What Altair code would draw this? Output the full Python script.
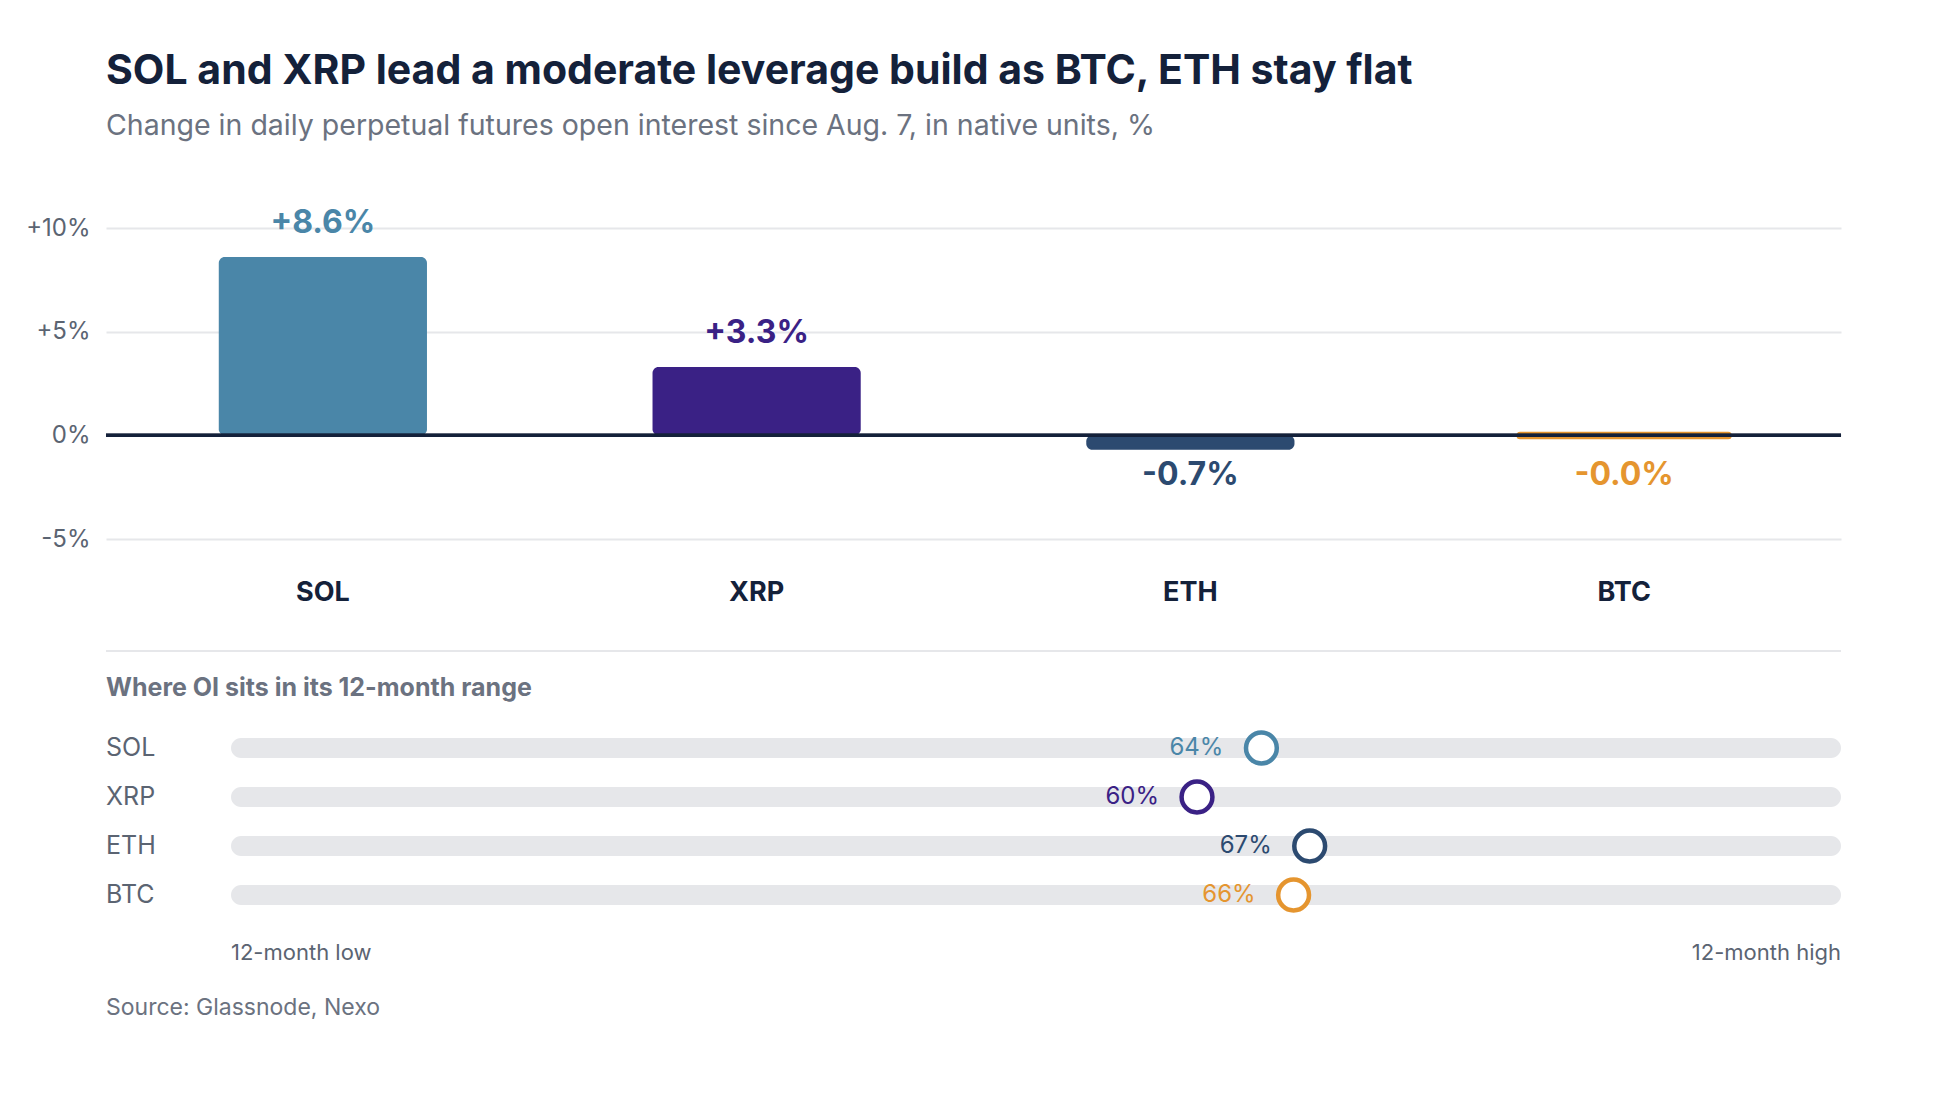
import altair as alt
import pandas as pd

coins = ["SOL", "XRP", "ETH", "BTC"]
change = [8.6, 3.3, -0.7, -0.02]
change_labels = ["+8.6%", "+3.3%", "-0.7%", "-0.0%"]
range_pct = [64, 60, 67, 66]
colors = ["#4a86a8", "#3a2185", "#2c4a70", "#e5952f"]

title = "SOL and XRP lead a moderate leverage build as BTC, ETH stay flat"
subtitle = "Change in daily perpetual futures open interest since Aug. 7, in native units, %"
sub2 = "Where OI sits in its 12-month range"
source = "Source: Glassnode, Nexo"
FONT = "Inter"
W = 1735

df = pd.DataFrame({"coin": coins, "change": change, "label": change_labels,
                   "pct": range_pct, "pct_label": [f"{p}%" for p in range_pct],
                   "zero": [0] * 4, "lo": [0] * 4, "hi": [100] * 4})
cscale = alt.Scale(domain=coins, range=colors)

xenc = alt.X("coin:N", sort=coins, title=None,
             scale=alt.Scale(paddingInner=0.52, paddingOuter=0.26),
             axis=alt.Axis(orient="bottom", domain=False, ticks=False, labelAngle=0,
                           labelFont=FONT, labelFontSize=27, labelFontWeight="bold",
                           labelColor="#14213a", labelPadding=40))
yscale = alt.Scale(domain=[-5, 10], nice=False)

base = alt.Chart(df)
bars = base.mark_bar(cornerRadius=6).encode(
    x=xenc,
    y=alt.Y("change:Q", scale=yscale, title=None,
            axis=alt.Axis(values=[-5, 0, 5, 10], domain=False, ticks=False,
                          labelExpr="datum.value > 0 ? '+' + datum.value + '%' : datum.value + '%'",
                          labelFont=FONT, labelFontSize=24, labelColor="#5b6472",
                          labelPadding=16, gridColor="#e6e7ea", gridWidth=2)),
    y2="zero:Q",
    color=alt.Color("coin:N", scale=cscale, legend=None),
)
flat = base.transform_filter("abs(datum.change) < 0.1").mark_bar(
    stroke="#e5952f", strokeWidth=7, strokeJoin="round").encode(
    x=alt.X("coin:N", sort=coins), y="change:Q", y2="zero:Q",
    color=alt.Color("coin:N", scale=cscale, legend=None))
zero = base.mark_rule(color="#14213a", strokeWidth=3).encode(
    y="zero:Q", x=alt.value(0), x2=alt.value(W))
pos = base.transform_filter("datum.change > 0").mark_text(
    font=FONT, fontSize=32, fontWeight="bold", baseline="bottom", dy=-17).encode(
    x=alt.X("coin:N", sort=coins), y="change:Q",
    text="label:N", color=alt.Color("coin:N", scale=cscale, legend=None))
neg = base.transform_filter("datum.change <= 0").transform_calculate(
    ly="min(datum.change, -0.7)").mark_text(
    font=FONT, fontSize=32, fontWeight="bold", baseline="top", dy=10).encode(
    x=alt.X("coin:N", sort=coins), y="ly:Q",
    text="label:N", color=alt.Color("coin:N", scale=cscale, legend=None))
t1 = alt.Chart(pd.DataFrame({"t": [title]})).mark_text(
    font=FONT, fontSize=41, fontWeight="bold", align="left", baseline="middle",
    color="#14213a").encode(text="t:N", x=alt.value(0), y=alt.value(-156))
t2 = alt.Chart(pd.DataFrame({"t": [subtitle]})).mark_text(
    font=FONT, fontSize=28.5, align="left", baseline="middle",
    color="#6b7280").encode(text="t:N", x=alt.value(0), y=alt.value(-102))

top = alt.layer(bars, flat, zero, pos, neg, t1, t2).properties(width=W, height=311)

# bottom panel
xs = alt.Scale(domain=[0, 100], range=[125, W])
ys = alt.Scale(type="point", domain=coins, range=[97, 244], padding=0)
bb = alt.Chart(df)
track = bb.mark_bar(color="#e6e7ea", height=20, cornerRadius=10).encode(
    x=alt.X("lo:Q", scale=xs, axis=None), x2="hi:Q",
    y=alt.Y("coin:N", scale=ys, axis=None, sort=coins))
rowlab = bb.mark_text(font=FONT, fontSize=25, align="left", baseline="middle",
                      color="#5b6472").encode(
    x=alt.value(0), y=alt.Y("coin:N", sort=coins), text="coin:N")
dots = bb.mark_point(shape="circle", size=950, filled=False, fill="white",
                     fillOpacity=1, strokeWidth=4.5, opacity=1).encode(
    x=alt.X("pct:Q"), y=alt.Y("coin:N", sort=coins),
    color=alt.Color("coin:N", scale=cscale, legend=None))
plab = bb.mark_text(font=FONT, fontSize=24, align="right", baseline="middle", dx=-38).encode(
    x=alt.X("pct:Q"), y=alt.Y("coin:N", sort=coins),
    text="pct_label:N", color=alt.Color("coin:N", scale=cscale, legend=None))
sep = alt.Chart(pd.DataFrame({"t": [""]})).mark_rule(color="#e6e7ea", strokeWidth=2).encode(
    x=alt.value(0), x2=alt.value(W), y=alt.value(0))
s2 = alt.Chart(pd.DataFrame({"t": [sub2]})).mark_text(
    font=FONT, fontSize=25, fontWeight="bold", align="left", baseline="middle",
    color="#6b7280").encode(text="t:N", x=alt.value(0), y=alt.value(37))
lo = alt.Chart(pd.DataFrame({"t": ["12-month low"]})).mark_text(
    font=FONT, fontSize=22, align="left", baseline="middle", color="#5b6472").encode(
    text="t:N", x=alt.value(125), y=alt.value(302))
hi = alt.Chart(pd.DataFrame({"t": ["12-month high"]})).mark_text(
    font=FONT, fontSize=22, align="right", baseline="middle", color="#5b6472").encode(
    text="t:N", x=alt.value(W), y=alt.value(302))
src = alt.Chart(pd.DataFrame({"t": [source]})).mark_text(
    font=FONT, fontSize=23, align="left", baseline="middle", color="#6b7280").encode(
    text="t:N", x=alt.value(0), y=alt.value(357))
bottom = alt.layer(track, rowlab, dots, plab, sep, s2, lo, hi, src).properties(width=W, height=370)

chart = alt.vconcat(top, bottom, spacing=45).properties(
    padding={"left": 17, "top": 43, "right": 5, "bottom": 5}
).configure(background="white").configure_view(stroke=None)
chart.save("out.html", embed_options={"renderer": "svg", "actions": False})
